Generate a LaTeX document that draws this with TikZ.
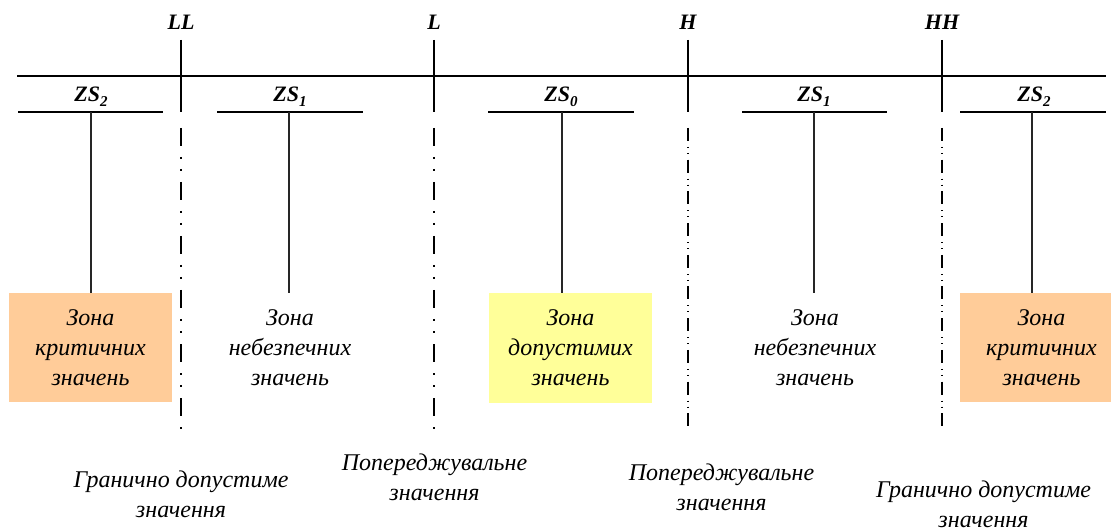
\documentclass[tikz,border=0pt]{standalone}
\usepackage{fontspec}
\setmainfont{Liberation Serif}
\definecolor{critcol}{HTML}{FFCC99}
\definecolor{okcol}{HTML}{FFFF99}
\begin{document}
\begin{tikzpicture}[x=1pt,y=-1pt,
  zonetxt/.style={font=\fontsize{24}{30}\selectfont\itshape, align=center,
    minimum width=163pt, minimum height=109pt, inner sep=0pt},
  crit/.style={zonetxt, fill=critcol},
  okzone/.style={zonetxt, fill=okcol},
  lvl/.style={font=\fontsize{22}{26}\selectfont\bfseries\itshape, inner sep=0pt},
  zs/.style={font=\fontsize{22}{26}\selectfont\bfseries\itshape, inner sep=0pt},
  note/.style={font=\fontsize{24}{30}\selectfont\itshape, align=center, inner sep=0pt},
  mainline/.style={line width=2.5pt},
  uline/.style={line width=1.3pt},
  stem/.style={line width=1.4pt, black!85},
  lowdash/.style={line width=2.5pt, dash pattern=on 18pt off 11pt on 2pt off 10pt on 2pt off 11pt},
  highdash/.style={line width=1.3pt, dash pattern=on 13pt off 6pt on 1pt off 5pt on 1pt off 5.7pt}
]
\useasboundingbox (0,0) rectangle (1111,529);

% level labels
\node[lvl] (lLL) at (181,22) {LL};
\node[lvl] (lL)  at (434,22) {L};
\node[lvl] (lH)  at (688,22) {H};
\node[lvl] (lHH) at (942,22) {HH};

% main axis
\coordinate (axL) at (17,76);
\coordinate (axR) at (1106,76);
\draw[mainline] (axL) -- (axR);

% level lines: solid top part
\foreach \n/\x in {LL/181, L/434, H/688, HH/942}{
  \coordinate (\n top) at (\x,40);
  \coordinate (\n mid) at (\x,112);
  \coordinate (\n dstart) at (\x,128);
  \coordinate (\n bot) at (\x,431);
  \draw[mainline] (\n top) -- (\n mid);
}
\draw[lowdash] (LLdstart) -- (LLbot);
\draw[lowdash] (Ldstart) -- (Lbot);
\draw[highdash] (Hdstart) -- (Hbot);
\draw[highdash] (HHdstart) -- (HHbot);

% ZS labels
\newcommand{\zsub}[1]{\raisebox{-0.22em}{\fontsize{15}{15}\selectfont #1}}
\node[zs] (zsa) at (91,97)   {ZS\zsub{2}};
\node[zs] (zsb) at (290,97)  {ZS\zsub{1}};
\node[zs] (zsc) at (561,97)  {ZS\zsub{0}};
\node[zs] (zsd) at (814,97)  {ZS\zsub{1}};
\node[zs] (zse) at (1034,97) {ZS\zsub{2}};

% underlines
\coordinate (ua1) at (18,112);  \coordinate (ua2) at (163,112);
\coordinate (ub1) at (217,112); \coordinate (ub2) at (363,112);
\coordinate (uc1) at (488,112); \coordinate (uc2) at (634,112);
\coordinate (ud1) at (742,112); \coordinate (ud2) at (887,112);
\coordinate (ue1) at (960,112); \coordinate (ue2) at (1106,112);
\draw[uline] (ua1) -- (ua2);
\draw[uline] (ub1) -- (ub2);
\draw[uline] (uc1) -- (uc2);
\draw[uline] (ud1) -- (ud2);
\draw[uline] (ue1) -- (ue2);

% zones
\node[crit]    (za) at (90.5,347.5)  {Зона\\критичних\\значень};
\node[zonetxt] (zb) at (290,347.5)   {Зона\\небезпечних\\значень};
\node[okzone]  (zc) at (570.5,348)   {Зона\\допустимих\\значень};
\node[zonetxt] (zd) at (815,347.5)   {Зона\\небезпечних\\значень};
\node[crit]    (ze) at (1041.5,347.5){Зона\\критичних\\значень};

% stems
\coordinate (sa) at (91,112);
\coordinate (sb) at (289,112);
\coordinate (sc) at (562,112);
\coordinate (sd) at (814,112);
\coordinate (se) at (1032,112);
\draw[stem] (sa) -- (sa |- za.north);
\draw[stem] (sb) -- (sb |- zb.north);
\draw[stem] (sc) -- (sc |- zc.north);
\draw[stem] (sd) -- (sd |- zd.north);
\draw[stem] (se) -- (se |- ze.north);

% bottom notes
\node[note] (na) at (181,494)   {Гранично допустиме\\значення};
\node[note] (nb) at (434.5,477) {Попереджувальне\\значення};
\node[note] (nc) at (721.5,487) {Попереджувальне\\значення};
\node[note] (nd) at (983.5,504.5) {Гранично допустиме\\значення};
\end{tikzpicture}
\end{document}
